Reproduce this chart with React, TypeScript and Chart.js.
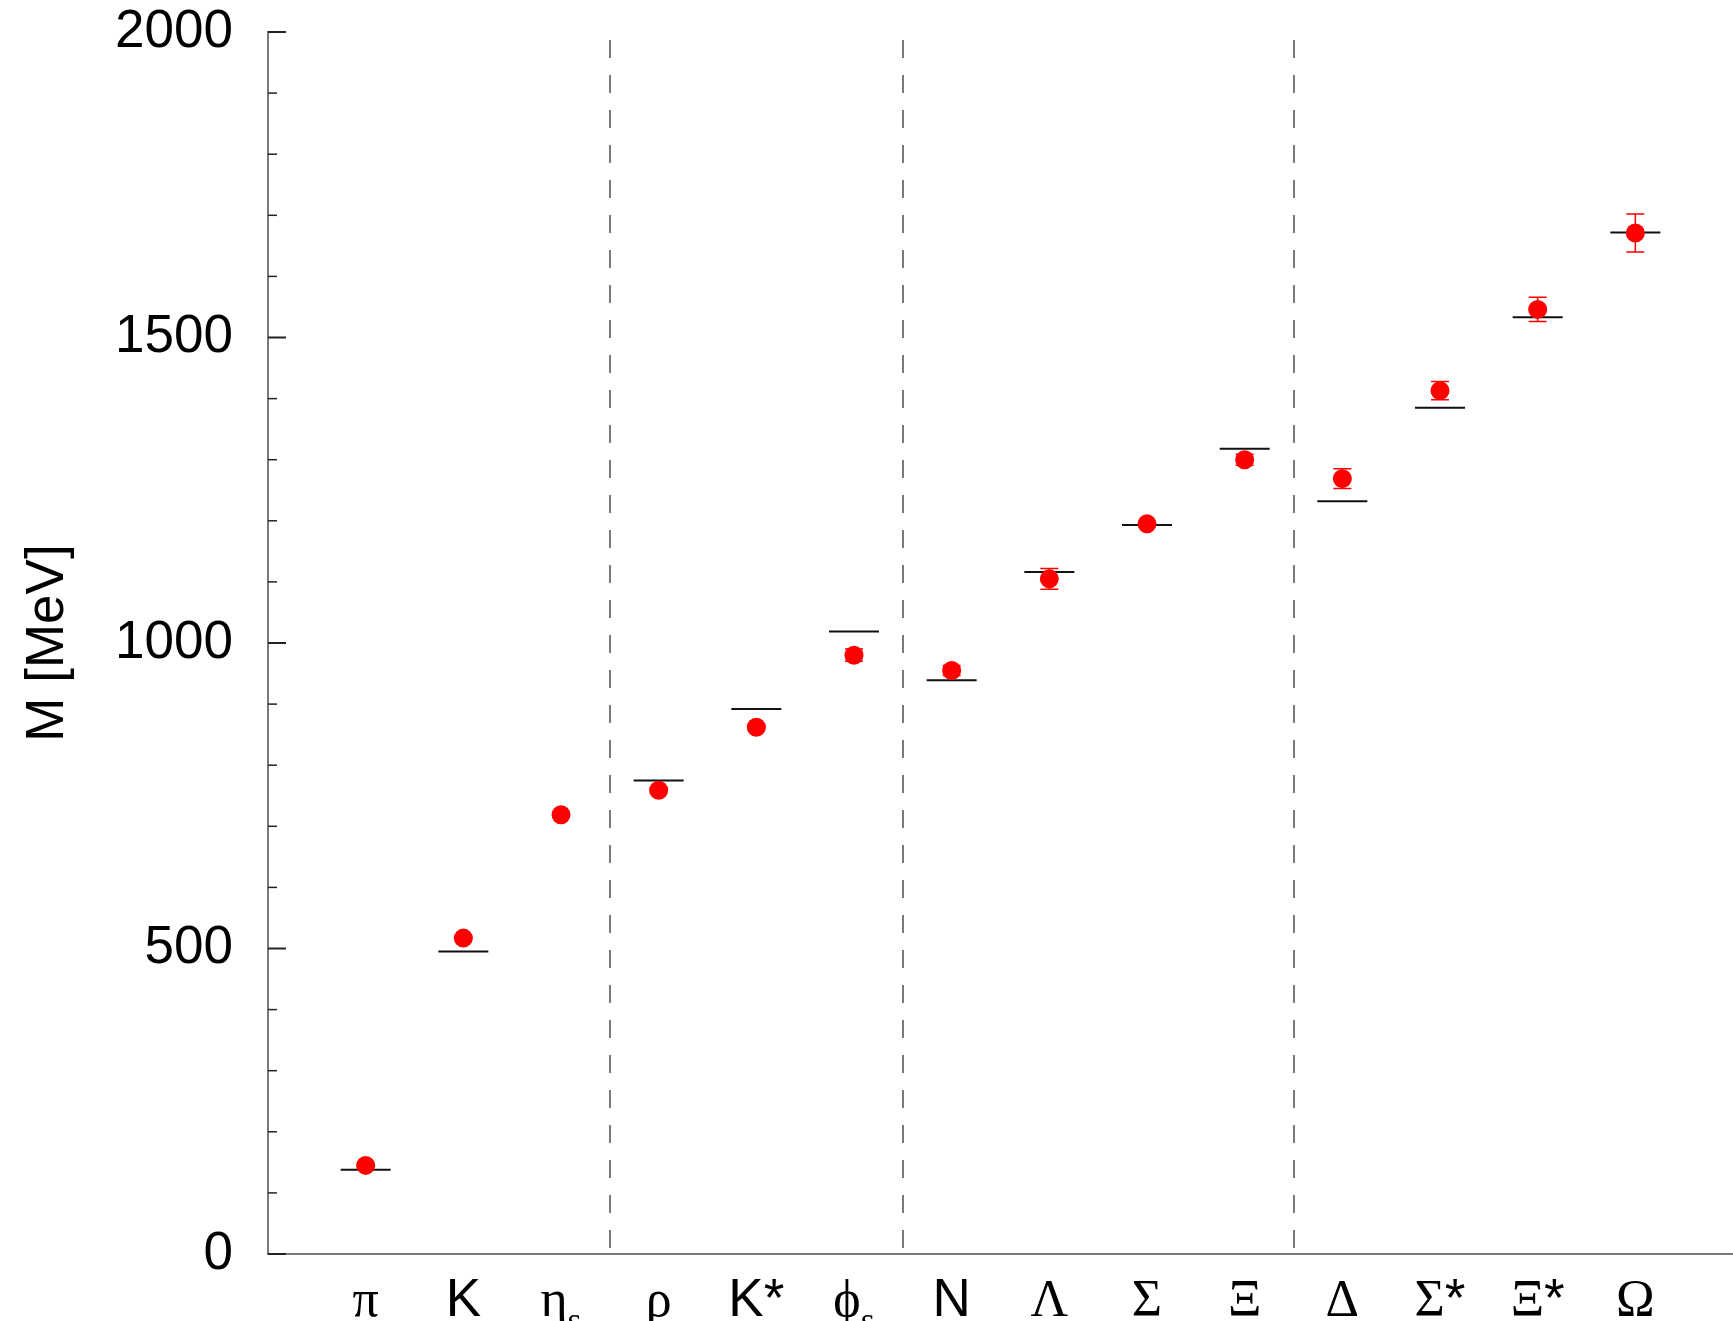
import React, { useEffect, useRef } from 'react';
import { Chart, registerables } from 'chart.js';

Chart.register(...registerables);

// ---- data ----
const categories = ['π', 'K', 'η', 'ρ', 'K*', 'ϕ', 'N', 'Λ', 'Σ', 'Ξ', 'Δ', 'Σ*', 'Ξ*', 'Ω'];
const subscripts = ['', '', 's', '', '', 's', '', '', '', '', '', '', '', ''];
const latticeMass = [145, 517, 719, 759, 862, 980, 955, 1105, 1195, 1300, 1269, 1413, 1546, 1671];
const latticeError = [2, 2, 3, 3, 3, 10, 8, 17, 3, 9, 16, 15, 20, 31];
const experimentMass: (number | null)[] = [138, 495, null, 775, 892, 1019, 939, 1116, 1193, 1318, 1232, 1385, 1533, 1672];
const groupSeparators = [2.5, 5.5, 9.5];
const yMin = 0;
const yMax = 2000;
const yMinorStep = 100;
const yMajorStep = 500;
const xMin = -1;
const xMax = 14;
const yTitle = 'M [MeV]';

const SANS = '"Liberation Sans", Arial, Helvetica, sans-serif';
const SERIF = '"Liberation Serif", "DejaVu Serif", "Times New Roman", serif';

const separatorPlugin = {
  id: 'separators',
  beforeDatasetsDraw(chart: any) {
    const { ctx, chartArea, scales } = chart;
    ctx.save();
    ctx.strokeStyle = '#7a7a7a';
    ctx.lineWidth = 2;
    ctx.setLineDash([18, 17]);
    groupSeparators.forEach((s) => {
      const x = Math.round(scales.x.getPixelForValue(s));
      ctx.beginPath();
      ctx.moveTo(x, chartArea.top + 8);
      ctx.lineTo(x, chartArea.bottom);
      ctx.stroke();
    });
    ctx.restore();
  },
};

const errorBarPlugin = {
  id: 'errorBars',
  afterDatasetsDraw(chart: any) {
    const { ctx, scales } = chart;
    ctx.save();
    ctx.strokeStyle = '#ff0000';
    ctx.lineWidth = 1.5;
    latticeMass.forEach((m, i) => {
      const e = latticeError[i];
      const x = scales.x.getPixelForValue(i);
      const yLo = scales.y.getPixelForValue(m - e);
      const yHi = scales.y.getPixelForValue(m + e);
      ctx.beginPath();
      ctx.moveTo(x, yLo);
      ctx.lineTo(x, yHi);
      ctx.moveTo(x - 9, yLo);
      ctx.lineTo(x + 9, yLo);
      ctx.moveTo(x - 9, yHi);
      ctx.lineTo(x + 9, yHi);
      ctx.stroke();
    });
    ctx.restore();
  },
};

const axisDecorPlugin = {
  id: 'axisDecor',
  afterDraw(chart: any) {
    const { ctx, chartArea, scales } = chart;
    ctx.save();
    // inward y tick marks
    scales.y.ticks.forEach((t: any) => {
      const y = scales.y.getPixelForValue(t.value);
      const major = t.value % yMajorStep === 0;
      ctx.beginPath();
      ctx.moveTo(chartArea.left, y);
      ctx.lineTo(chartArea.left + (major ? 18 : 9), y);
      ctx.lineWidth = major ? 2 : 1.5;
      ctx.strokeStyle = '#222';
      ctx.stroke();
    });
    // category labels
    const baseY = chartArea.bottom + 62;
    ctx.fillStyle = '#000';
    ctx.textAlign = 'left';
    ctx.textBaseline = 'alphabetic';
    categories.forEach((cat, i) => {
      const main = cat.replace('*', '');
      const star = cat.includes('*') ? '*' : '';
      const sub = subscripts[i];
      const latin = /^[A-Za-z]/.test(main);
      const mainFont = latin ? `53px ${SANS}` : `52px ${SERIF}`;
      const starFont = `53px ${SANS}`;
      const subFont = `36px ${SERIF}`;
      ctx.font = mainFont;
      const wMain = ctx.measureText(main).width;
      ctx.font = starFont;
      const wStar = star ? ctx.measureText(star).width : 0;
      ctx.font = subFont;
      const wSub = sub ? ctx.measureText(sub).width : 0;
      let x = scales.x.getPixelForValue(i) - (wMain + wStar + wSub) / 2;
      ctx.font = mainFont;
      ctx.fillText(main, x, baseY);
      x += wMain;
      if (star) {
        ctx.font = starFont;
        ctx.fillText(star, x, baseY);
        x += wStar;
      }
      if (sub) {
        ctx.font = subFont;
        ctx.fillText(sub, x, baseY + 16);
      }
    });
    ctx.restore();
  },
};

export default function App() {
  const canvasRef = useRef<HTMLCanvasElement | null>(null);

  useEffect(() => {
    document.body.style.margin = '0';
    const canvas = canvasRef.current;
    if (!canvas) return;
    const chart = new Chart(canvas, {
      type: 'scatter',
      data: {
        datasets: [
          {
            label: 'Lattice',
            data: latticeMass.map((m, i) => ({ x: i, y: m })),
            pointStyle: 'circle',
            pointRadius: 9.5,
            pointHoverRadius: 9.5,
            pointBackgroundColor: '#ff0000',
            pointBorderWidth: 0,
            backgroundColor: '#ff0000',
            borderColor: '#ff0000',
            showLine: false,
            order: 1,
          } as any,
          {
            label: 'Experiment',
            data: experimentMass
              .map((m, i) => (m == null ? null : { x: i, y: m }))
              .filter((d) => d !== null) as any,
            pointStyle: 'line',
            pointRadius: 25,
            pointHoverRadius: 25,
            pointBorderColor: '#111',
            borderColor: '#111',
            pointBorderWidth: 2,
            showLine: false,
            order: 2,
          } as any,
        ],
      },
      options: {
        animation: false,
        responsive: false,
        devicePixelRatio: 1,
        events: [],
        layout: { autoPadding: false, padding: { top: 32, left: 0, right: 0, bottom: 0 } },
        plugins: {
          legend: { display: false },
          tooltip: { enabled: false },
        },
        scales: {
          x: {
            type: 'linear',
            min: xMin,
            max: xMax,
            grid: { display: false, drawTicks: false },
            border: { display: true, color: '#7a7a7a', width: 2 },
            ticks: { display: false, stepSize: 1 },
            afterFit: (scale: any) => {
              scale.height = 67;
              scale.paddingLeft = 0;
              scale.paddingRight = 0;
            },
          },
          y: {
            type: 'linear',
            min: yMin,
            max: yMax,
            grid: { display: false, drawTicks: false },
            border: { display: true, color: '#7a7a7a', width: 2 },
            ticks: {
              stepSize: yMinorStep,
              autoSkip: false,
              padding: 35,
              color: '#000',
              font: { family: SANS, size: 53, lineHeight: 1 },
              callback: (v: any) => (Number(v) % yMajorStep === 0 ? String(v) : ''),
            },
            title: {
              display: true,
              text: yTitle,
              color: '#000',
              font: { family: SANS, size: 53, lineHeight: 1.2 },
              padding: { top: 17, bottom: 0 },
            },
            afterFit: (scale: any) => {
              scale.width = 268;
              scale.paddingTop = 0;
              scale.paddingBottom = 0;
            },
          },
        },
      } as any,
      plugins: [separatorPlugin, errorBarPlugin, axisDecorPlugin],
    });
    return () => chart.destroy();
  }, []);

  return (
    <div style={{ position: 'absolute', left: 0, top: 0, width: 1733, height: 1321, background: '#fff', overflow: 'hidden' }}>
      <canvas ref={canvasRef} width={1733} height={1321} style={{ display: 'block', width: 1733, height: 1321 }} />
    </div>
  );
}
